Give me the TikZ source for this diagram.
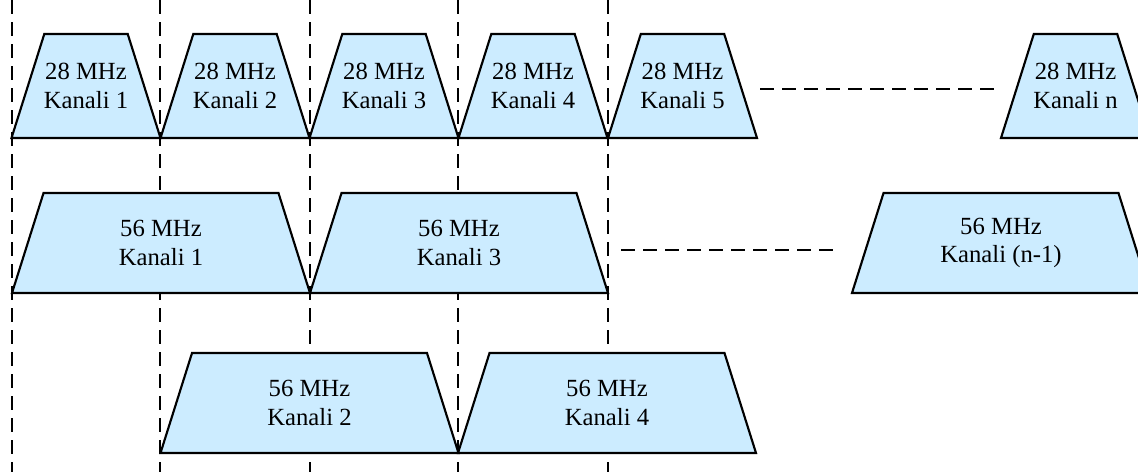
\documentclass[tikz,border=0pt]{standalone}
\usepackage{fontspec}
\setmainfont{Liberation Serif}
\usetikzlibrary{shapes.geometric}

\definecolor{chanblue}{RGB}{204,236,255}

\tikzset{
    chan/.style={trapezium, trapezium angle=72.5, trapezium stretches body=true,
        draw=black, line width=1.6pt, fill=chanblue, inner xsep=0pt},
    ch28/.style={chan, inner ysep=39pt, minimum width=111.75pt},
    ch56/.style={chan, inner ysep=37.5pt, minimum width=223.5pt},
    chantext/.style={inner sep=0pt, align=center, font=\fontsize{18.5}{21.5}\selectfont},
    guide/.style={line width=1.5pt, dash pattern=on 10.5pt off 6pt},
}

\begin{document}
\begin{tikzpicture}[x=0.75pt,y=0.75pt,yscale=-1,xscale=1]
    \useasboundingbox (0,0) rectangle (1138,472);
    \clip (0,0) rectangle (1138,472);

    %Straight Lines: channel borders
    \foreach \gx in {12,160,310,458,608}
        \draw [guide] (\gx,0) -- (\gx,472);

    %Shape: Trapezium (28 MHz row)
    \node [ch28] (k28a) at (86,86) {};
    \node [ch28] (k28b) at (235,86) {};
    \node [ch28] (k28c) at (384,86) {};
    \node [ch28] (k28d) at (533,86) {};
    \node [ch28] (k28e) at (682.5,86) {};
    \node [ch28] (k28n) at (1075.5,86) {};

    %Shape: Trapezium (56 MHz, odd)
    \node [ch56] (k56a) at (161,243) {};
    \node [ch56] (k56c) at (459,243) {};
    \node [ch56] (k56n) at (1001,243) {};

    %Shape: Trapezium (56 MHz, even)
    \node [ch56] (k56b) at (309.5,403) {};
    \node [ch56] (k56d) at (607,403) {};

    % Text Node
    \node [chantext] (t28a) at (k28a) {28 MHz\\Kanali 1};
    \node [chantext] (t28b) at (k28b) {28 MHz\\Kanali 2};
    \node [chantext] (t28c) at (k28c) {28 MHz\\Kanali 3};
    \node [chantext] (t28d) at (k28d) {28 MHz\\Kanali 4};
    \node [chantext] (t28e) at (k28e) {28 MHz\\Kanali 5};
    \node [chantext] (t28n) at (k28n) {28 MHz\\Kanali n};
    \node [chantext] (t56a) at (k56a) {56 MHz\\Kanali 1};
    \node [chantext] (t56b) at (k56b) {56 MHz\\Kanali 2};
    \node [chantext] (t56c) at (k56c) {56 MHz\\Kanali 3};
    \node [chantext] (t56d) at (k56d) {56 MHz\\Kanali 4};
    \node [chantext] (t56n) at (k56n) {56 MHz\\Kanali (n-1)};

    %Straight Lines: gaps
    \draw [guide, shorten <=14pt, shorten >=13pt] ([yshift=2pt]k28e.east) -- ([yshift=2pt]k28n.west);
    \draw [guide, shorten <=21pt, shorten >=20pt] ([yshift=5pt]k56c.east) -- ([yshift=5pt]k56n.west);

\end{tikzpicture}
\end{document}
